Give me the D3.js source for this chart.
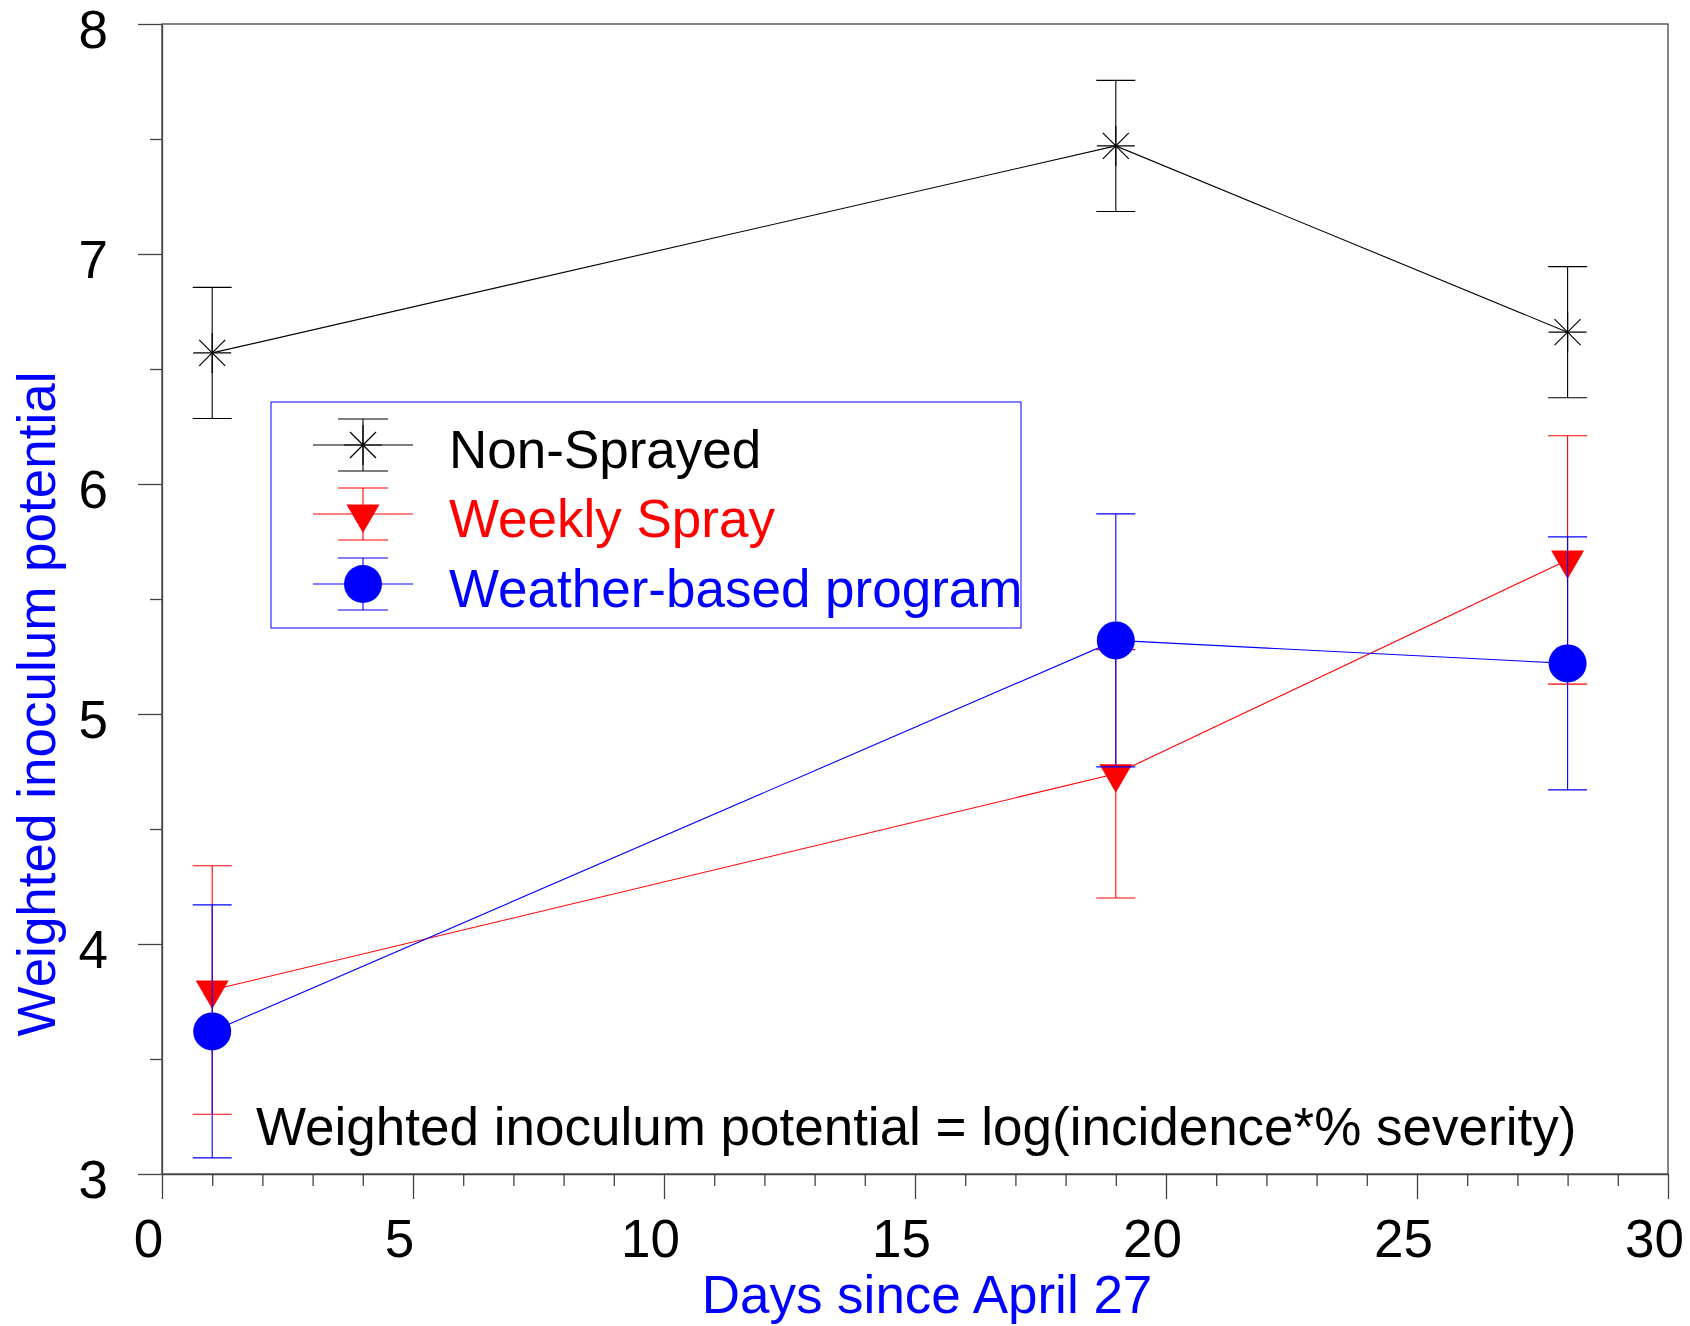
<!DOCTYPE html>
<meta charset="utf-8">
<style>
body { margin: 0; background: #fff; }
text { font-family: "Liberation Sans", Arial, sans-serif; }
.axis path, .axis line { stroke: #444; stroke-width: 1.3px; }
.axis text { font-size: 53px; fill: #000; }
</style>
<body>
<script src="https://d3js.org/d3.v7.min.js"></script>
<script>
// days since April 27
var days = [1, 19, 28];

var nonSprayed    = [6.57, 7.47, 6.66];
var nonSprayedErr = [0.285, 0.285, 0.285];
var weekly        = [3.80, 4.74, 5.67];
var weeklyErr     = [0.54, 0.54, 0.54];
var weather       = [3.62, 5.32, 5.22];
var weatherErr    = [0.55, 0.55, 0.55];

var seriesNames = ["Non-Sprayed", "Weekly Spray", "Weather-based program"];
var xTicks = [0, 5, 10, 15, 20, 25, 30];
var yTicks = [3, 4, 5, 6, 7, 8];

var width = 1690, height = 1326;
var margin = {left: 162, top: 24, right: 22, bottom: 152};

var svg = d3.select("body").append("svg")
    .attr("width", width)
    .attr("height", height);

var x = d3.scaleLinear().domain([0, 30]).range([margin.left, width - margin.right]);
var y = d3.scaleLinear().domain([3, 8]).range([height - margin.bottom, margin.top]);

// frame
svg.append("rect")
    .attr("x", x(0)).attr("y", y(8))
    .attr("width", x(30) - x(0)).attr("height", y(3) - y(8))
    .attr("fill", "none").attr("stroke", "#444").attr("stroke-width", 1.3);

// minor ticks
svg.append("g").attr("class", "axis")
    .attr("transform", "translate(0," + y(3) + ")")
    .call(d3.axisBottom(x).tickValues(d3.range(0, 31).filter(function(d) { return d % 5; }))
      .tickSize(12).tickFormat(""))
    .select(".domain").remove();
svg.append("g").attr("class", "axis")
    .attr("transform", "translate(" + x(0) + ",0)")
    .call(d3.axisLeft(y).tickValues([3.5, 4.5, 5.5, 6.5, 7.5]).tickSize(12).tickFormat(""))
    .select(".domain").remove();

// major axes
var gx = svg.append("g").attr("class", "axis")
    .attr("transform", "translate(0," + y(3) + ")")
    .call(d3.axisBottom(x).tickValues(xTicks).tickFormat(d3.format("d"))
      .tickSize(25).tickSizeOuter(0).tickPadding(20));
gx.selectAll("text").attr("dx", -14);

var gy = svg.append("g").attr("class", "axis")
    .attr("transform", "translate(" + x(0) + ",0)")
    .call(d3.axisLeft(y).tickValues(yTicks).tickFormat(d3.format("d"))
      .tickSize(24).tickSizeOuter(0).tickPadding(30));
gy.selectAll("text").attr("dy", "0.45em");

// axis titles
svg.append("text")
    .attr("transform", "translate(55,704) rotate(-90)")
    .attr("text-anchor", "middle")
    .attr("font-size", 53).attr("fill", "#0000ff")
    .text("Weighted inoculum potential");

svg.append("text")
    .attr("x", 927).attr("y", 1313)
    .attr("text-anchor", "middle")
    .attr("font-size", 53).attr("fill", "#0000ff")
    .text("Days since April 27");

// note
svg.append("text")
    .attr("x", 256).attr("y", 1145)
    .attr("font-size", 53).attr("fill", "#000")
    .text("Weighted inoculum potential = log(incidence*% severity)");

// markers
function asterisk(g, color) {
  var arms = [[-19, 0, 19, 0], [0, -20, 0, 20], [-13, -13, 13, 13], [-13, 13, 13, -13]];
  arms.forEach(function(a) {
    g.append("line").attr("x1", a[0]).attr("y1", a[1]).attr("x2", a[2]).attr("y2", a[3])
      .attr("stroke", color).attr("stroke-width", 1.2);
  });
}
function triangle(g, color) {
  g.append("path").attr("d", "M-16.5,-9.5L16.5,-9.5L0,19Z").attr("fill", color);
}
function circle(g, color) {
  g.append("circle").attr("r", 19).attr("fill", color);
}

var series = [
  {name: seriesNames[0], vals: nonSprayed, err: nonSprayedErr, color: "#000000", marker: asterisk},
  {name: seriesNames[1], vals: weekly, err: weeklyErr, color: "#ff0000", marker: triangle},
  {name: seriesNames[2], vals: weather, err: weatherErr, color: "#0000ff", marker: circle}
];

var line = d3.line()
    .x(function(d) { return x(d[0]); })
    .y(function(d) { return y(d[1]); });

series.forEach(function(s) {
  var pts = days.map(function(d, i) { return [d, s.vals[i], s.err[i]]; });
  var g = svg.append("g");

  g.append("path")
      .attr("d", line(pts))
      .attr("fill", "none").attr("stroke", s.color).attr("stroke-width", 1.1);

  pts.forEach(function(p) {
    var cx = x(p[0]), top = y(p[1] + p[2]), bot = y(p[1] - p[2]);
    g.append("line").attr("x1", cx).attr("x2", cx).attr("y1", top).attr("y2", bot)
      .attr("stroke", s.color).attr("stroke-width", 1.1);
    [top, bot].forEach(function(cy) {
      g.append("line").attr("x1", cx - 19.5).attr("x2", cx + 19.5).attr("y1", cy).attr("y2", cy)
        .attr("stroke", s.color).attr("stroke-width", 1.1);
    });
    var m = g.append("g").attr("transform", "translate(" + cx + "," + y(p[1]) + ")");
    s.marker(m, s.color);
  });
});

// legend
var legend = svg.append("g");
legend.append("rect")
    .attr("x", 271).attr("y", 402).attr("width", 750).attr("height", 226)
    .attr("fill", "none").attr("stroke", "#0000ff").attr("stroke-width", 1);

var rowY = [445, 514, 584];
series.forEach(function(s, i) {
  var row = legend.append("g").attr("transform", "translate(363," + rowY[i] + ")");
  row.append("line").attr("x1", -50).attr("x2", 50).attr("y1", 0).attr("y2", 0)
    .attr("stroke", s.color).attr("stroke-width", 1.1);
  row.append("line").attr("x1", 0).attr("x2", 0).attr("y1", -26).attr("y2", 26)
    .attr("stroke", s.color).attr("stroke-width", 1.1);
  [-26, 26].forEach(function(cy) {
    row.append("line").attr("x1", -25).attr("x2", 25).attr("y1", cy).attr("y2", cy)
      .attr("stroke", s.color).attr("stroke-width", 1.1);
  });
  s.marker(row, s.color);
  legend.append("text")
      .attr("x", 449).attr("y", rowY[i] + 23)
      .attr("font-size", 53).attr("fill", s.color)
      .text(s.name);
});
</script>
